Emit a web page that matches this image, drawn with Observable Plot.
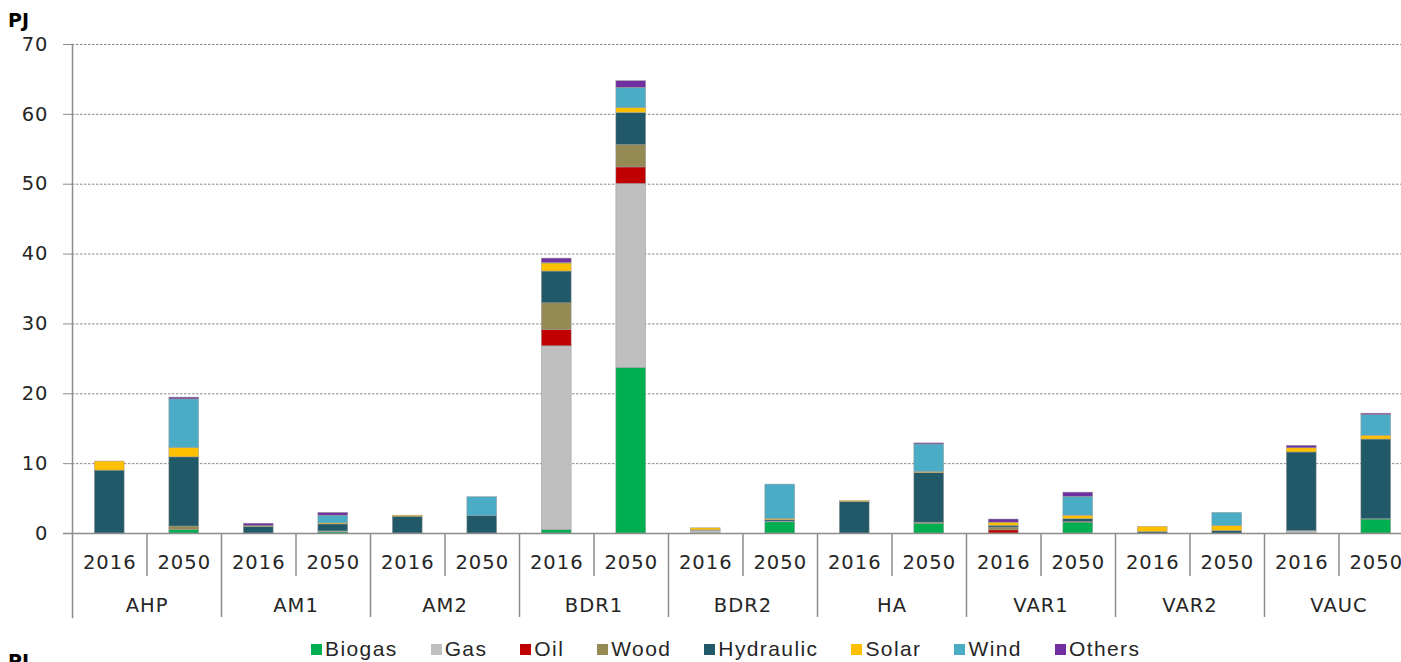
<!DOCTYPE html>
<html>
<head>
<meta charset="utf-8">
<script src="https://cdn.jsdelivr.net/npm/d3@7"></script>
<script src="https://cdn.jsdelivr.net/npm/@observablehq/plot@0.6"></script>
<style>
  html, body { margin: 0; padding: 0; background: #fff; overflow: hidden; width: 1401px; height: 662px; }
  #wrap { position: relative; width: 1401px; height: 662px; }
  .pj { position: absolute; font-family: "DejaVu Sans", sans-serif; font-weight: bold; font-size: 19px; color: #000; }
  #legend { position: absolute; top: 637px; left: 311px; display: flex; align-items: center;
    font-family: "Liberation Sans", Arial, sans-serif; font-size: 21px; letter-spacing: 1.4px; color: #262626; white-space: nowrap; }
  #legend .item { display: flex; align-items: center; margin-right: 33px; }
  #legend .sw { width: 11px; height: 11px; margin-right: 3px; }
  #chart svg text { font-family: "DejaVu Sans", sans-serif; }
</style>
</head>
<body>
<div id="wrap">
  <div id="chart"></div>
  <div class="pj" style="left:8px;top:9px;">PJ</div>
  <div class="pj" style="left:8px;top:650px;">PJ</div>
  <div id="legend"></div>
</div>
<script>
const regions = ["AHP","AM1","AM2","BDR1","BDR2","HA","VAR1","VAR2","VAUC"];
const years = ["2016","2050"];
const sources = ["Biogas","Gas","Oil","Wood","Hydraulic","Solar","Wind","Others"];
const colors = ["#00B050","#BFBFBF","#C00000","#948A54","#215968","#FFC000","#4BACC6","#7030A0"];
const yTicks = [0,10,20,30,40,50,60,70];

// values per source, in order region × year (2016, 2050)
const biogas    = [0,0.5, 0,0.2, 0,0, 0.5,23.7, 0,1.6, 0,1.4, 0,1.55, 0,0, 0,2.0];
const gas       = [0,0, 0,0.1, 0,0, 26.3,26.35, 0.4,0.1, 0,0, 0,0, 0,0, 0.35,0.05];
const oil       = [0,0, 0,0, 0,0, 2.35,2.35, 0,0, 0,0, 0.45,0.1, 0,0, 0,0];
const wood      = [0,0.5, 0,0, 0,0, 3.8,3.2, 0.05,0, 0,0.15, 0.4,0, 0,0, 0,0];
const hydraulic = [9.0,9.9, 0.95,1.0, 2.4,2.5, 4.55,4.6, 0,0.2, 4.5,7.1, 0.25,0.4, 0.2,0.35, 11.25,11.4];
const solar     = [1.3,1.35, 0.1,0.15, 0.15,0, 1.15,0.7, 0.3,0.2, 0.15,0.15, 0.45,0.5, 0.75,0.75, 0.6,0.55];
const wind      = [0,6.95, 0,1.1, 0,2.7, 0.1,2.9, 0,4.9, 0,3.95, 0,2.7, 0,1.85, 0,2.95];
const others    = [0,0.25, 0.35,0.4, 0,0, 0.6,0.95, 0,0, 0,0.15, 0.45,0.6, 0,0, 0.35,0.2];

const series = [biogas, gas, oil, wood, hydraulic, solar, wind, others];
const keys = regions.flatMap(r => years.map(y => r + " " + y));
const rows = [];
sources.forEach((s, si) => {
  keys.forEach((k, ki) => {
    const v = series[si][ki];
    if (v > 0) rows.push({key: k, source: s, value: v});
  });
});

// layout
const W = 1401, H = 630;
const padL = 72, padR = 1413, padT = 44, baseY = 533;
const step = (padR - padL) / keys.length;
const axisColor = "#8c8c8c";
const textColor = "#262626";
const font = "DejaVu Sans";

const chart = Plot.plot({
  width: W,
  height: H,
  marginLeft: padL,
  marginRight: 0,
  marginTop: padT,
  marginBottom: H - baseY,
  style: {fontFamily: "'DejaVu Sans', sans-serif", background: "white", overflow: "visible"},
  x: {domain: keys, range: [padL, padR], paddingInner: 0.6, paddingOuter: 0.3, round: false, axis: null},
  y: {domain: [0, 70], axis: null},
  color: {domain: sources, range: colors},
  marks: [
    Plot.gridY(yTicks.filter(d => d > 0), {stroke: "#8a8a8a", strokeOpacity: 1, strokeDasharray: "2.5,1.5", strokeWidth: 1}),
    Plot.barY(rows, Plot.stackY({x: "key", y: "value", fill: "source", z: "source", order: sources,
      stroke: "#9a9a9a", strokeWidth: 0.6, strokeOpacity: 0.8})),
    Plot.ruleY([0], {stroke: axisColor, strokeWidth: 1.5, insetLeft: -9}),
    Plot.axisY({ticks: yTicks, tickSize: 9, tickPadding: 15, fontSize: 19.5, fontFamily: font, stroke: axisColor, fill: textColor,
      label: null}),
    Plot.frame({anchor: "left", stroke: axisColor, strokeWidth: 1.5, insetBottom: -84}),
    // short separators between years
    Plot.ruleX(keys.filter((k, i) => i % 2 === 1), {x: d => d, dx: -step / 2, stroke: axisColor, strokeWidth: 1.5,
      insetTop: baseY - padT, insetBottom: -43}),
    // long separators between regions
    Plot.ruleX(keys.filter((k, i) => i % 2 === 0 && i > 0), {x: d => d, dx: -step / 2, stroke: axisColor, strokeWidth: 1.5,
      insetTop: baseY - padT, insetBottom: -84}),
    // year labels
    Plot.text(keys, {x: d => d, text: d => d.split(" ")[1], frameAnchor: "bottom", lineAnchor: "middle", dy: 29,
      fontSize: 19.5, fontFamily: font, fill: textColor}),
    // region labels
    Plot.text(keys.filter((k, i) => i % 2 === 0), {x: d => d, text: d => d.split(" ")[0], dx: step / 2,
      frameAnchor: "bottom", lineAnchor: "middle", dy: 72, fontSize: 19.5, fontFamily: font, fill: textColor})
  ]
});
chart.querySelectorAll("text").forEach(t => t.style.letterSpacing = "1px");
document.getElementById("chart").appendChild(chart);

const legend = document.getElementById("legend");
sources.forEach((s, i) => {
  const item = document.createElement("div");
  item.className = "item";
  item.innerHTML = `<span class="sw" style="background:${colors[i]}"></span><span>${s}</span>`;
  legend.appendChild(item);
});
</script>
</body>
</html>
